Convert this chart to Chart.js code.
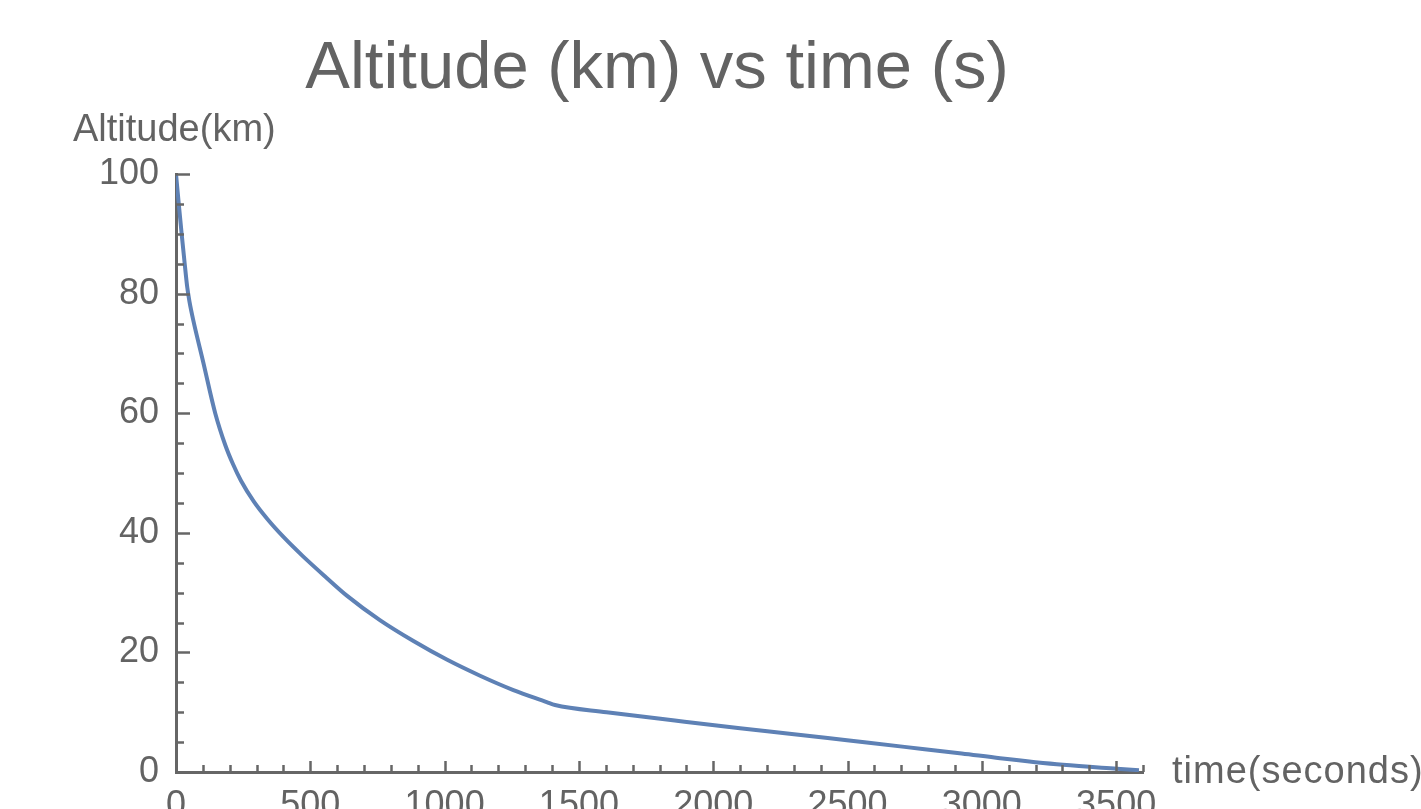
<!DOCTYPE html>
<html>
<head>
<meta charset="utf-8">
<title>Altitude vs time</title>
<script src="https://cdn.jsdelivr.net/npm/chart.js@4/dist/chart.umd.min.js"></script>
<style>
    html, body { margin: 0; padding: 0; background: #fff; overflow: hidden; }
    #altChart { display: block; }
</style>
</head>
<body>
<canvas id="altChart" width="1421" height="850"></canvas>
<script>
// values
const timeSeconds = [0, 12, 21, 31, 42, 50, 64, 101, 146, 184, 212, 242, 290, 340, 400, 472, 560, 636, 759, 884, 1008, 1132, 1256, 1380, 1411, 1603, 1857, 2100, 2284, 2498, 2712, 2925, 3068, 3302, 3503, 3585];
const altitudeKm = [100, 94.2, 90, 85.6, 81.0, 78.7, 75.6, 68.6, 60.0, 54.6, 51.5, 48.7, 45.2, 42.3, 39.3, 36.1, 32.5, 29.5, 25.4, 21.9, 18.8, 16.1, 13.7, 11.7, 11.2, 10.0, 8.6, 7.3, 6.4, 5.3, 4.2, 3.1, 2.3, 1.2, 0.55, 0.3];

const xMax = 3600;
const xMajor = 500, xMinor = 100;
const yMax = 100;
const yMajor = 20, yMinor = 5;

const chartTitle = 'Altitude (km) vs time (s)';
const yLabel = 'Altitude(km)';
const xLabel = 'time(seconds)';

const textColor = '#636363';
const axisColor = '#666666';
const fontFamily = '"Liberation Sans", Arial, sans-serif';

// ticks point inward, Mathematica style, plus the free-floating labels
const frameExtras = {
    id: 'frameExtras',
    afterDraw(chart) {
        const ctx = chart.ctx;
        const xs = chart.scales.x, ys = chart.scales.y;
        const area = chart.chartArea;
        ctx.save();
        ctx.strokeStyle = axisColor;
        ctx.lineWidth = 2.5;
        xs.ticks.forEach(t => {
            const px = Math.round(xs.getPixelForValue(t.value)) + 0.5;
            const len = t.value % xMajor === 0 ? 11 : 7;
            ctx.beginPath();
            ctx.moveTo(px, area.bottom);
            ctx.lineTo(px, area.bottom - len);
            ctx.stroke();
        });
        ys.ticks.forEach(t => {
            const py = Math.round(ys.getPixelForValue(t.value)) + 0.5;
            const len = t.value % yMajor === 0 ? 14 : 8;
            ctx.beginPath();
            ctx.moveTo(area.left, py);
            ctx.lineTo(area.left + len, py);
            ctx.stroke();
        });

        ctx.fillStyle = textColor;
        ctx.textBaseline = 'alphabetic';
        ctx.textAlign = 'center';
        ctx.font = '67px ' + fontFamily;
        ctx.fillText(chartTitle, 657, 88);

        ctx.textAlign = 'left';
        ctx.font = '38px ' + fontFamily;
        ctx.fillText(yLabel, 73, 141);

        ctx.letterSpacing = '1px';
        ctx.fillText(xLabel, area.right + 29, 783);
        ctx.restore();
    }
};

function buildChart() {
    const ctx = document.getElementById('altChart').getContext('2d');
    return new Chart(ctx, {
        type: 'line',
        data: {
            datasets: [{
                data: timeSeconds.map((t, i) => ({ x: t, y: altitudeKm[i] })),
                borderColor: '#5e81b5',
                borderWidth: 4,
                pointRadius: 0,
                fill: false,
                cubicInterpolationMode: 'monotone'
            }]
        },
        options: {
            responsive: false,
            animation: false,
            devicePixelRatio: 1,
            layout: {
                padding: { left: 0, right: 278, top: 174, bottom: 0 }
            },
            plugins: {
                legend: { display: false },
                title: { display: false },
                tooltip: { enabled: false }
            },
            scales: {
                x: {
                    type: 'linear',
                    min: 0,
                    max: xMax,
                    afterFit: s => { s.height = 78; },
                    grid: { display: false, drawTicks: false },
                    border: { display: true, color: axisColor, width: 3 },
                    ticks: {
                        stepSize: xMinor,
                        autoSkip: false,
                        maxRotation: 0,
                        padding: 12,
                        color: textColor,
                        font: { family: fontFamily, size: 36 },
                        callback: v => (v % xMajor === 0 && v <= 3500 ? v : '')
                    }
                },
                y: {
                    min: 0,
                    max: yMax,
                    afterFit: s => { s.width = 176; },
                    grid: { display: false, drawTicks: false },
                    border: { display: true, color: axisColor, width: 3 },
                    ticks: {
                        stepSize: yMinor,
                        autoSkip: false,
                        padding: 17,
                        color: textColor,
                        font: { family: fontFamily, size: 36 },
                        callback: v => (v % yMajor === 0 ? v : '')
                    }
                }
            }
        },
        plugins: [frameExtras]
    });
}

buildChart();
</script>
</body>
</html>
